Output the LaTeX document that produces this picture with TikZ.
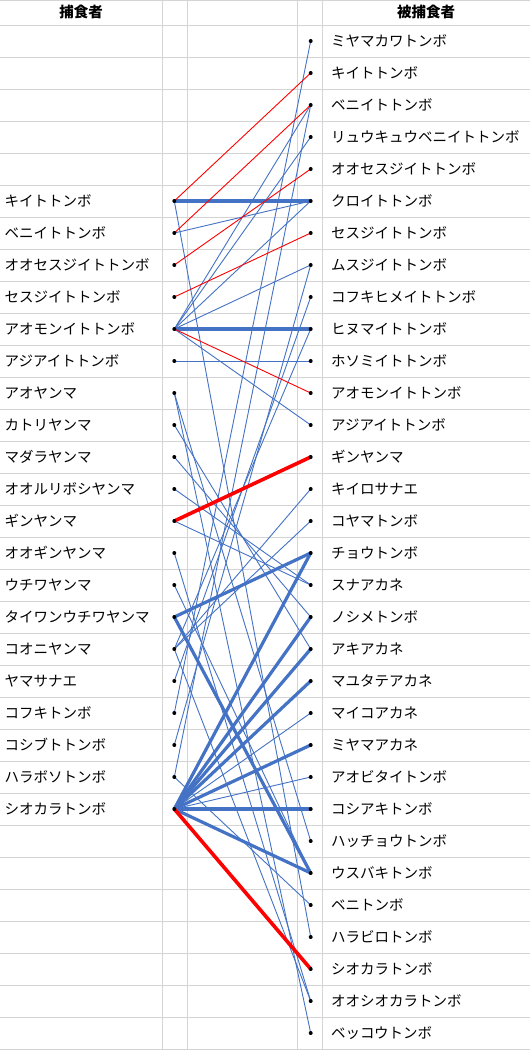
\documentclass[tikz,border=0pt]{standalone}
\usepackage{fontspec}
\newfontfamily\jp{Noto Sans CJK JP}
\begin{document}
\begin{tikzpicture}[x=1pt,y=-1pt,
  grid/.style={draw=black!17,line width=0.8pt},
  lbl/.style={anchor=west,inner sep=0pt,font=\jp\fontsize{14.5}{16}\selectfont},
  hdr/.style={inner sep=0pt,font=\jp\bfseries\fontsize{14.5}{16}\selectfont},
  dot/.style={circle,fill=black,inner sep=0pt,minimum size=4pt},
  bl/.style={draw={rgb,255:red,68;green,114;blue,196},line width=0.9pt},
  blt/.style={draw={rgb,255:red,68;green,114;blue,196},line width=3.2pt},
  rd/.style={draw=red,line width=0.9pt},
  rdt/.style={draw=red,line width=3.6pt}]
\useasboundingbox (0,0) rectangle (530,1050);
\fill[white] (0,0) rectangle (530,1050);
% grid
\foreach \k in {0,...,32} { \draw[grid] (0,25+32*\k) -- (530,25+32*\k); }
\draw[grid] (0,0.5) -- (530,0.5);
\foreach \xx in {162,187,297,322} { \draw[grid] (\xx,0) -- (\xx,1050); }
% headers
\node[hdr] (h1) at (81,12) {捕食者};
\node[hdr] (h2) at (426,12) {被捕食者};
% coordinates
\foreach \k in {6,...,25} { \coordinate (L\k) at (174.3,9+32*\k); }
\foreach \k in {1,...,32} { \coordinate (R\k) at (310.7,9+32*\k); }
% left labels
\foreach \k/\t in {6/キイトトンボ,7/ベニイトトンボ,8/オオセスジイトトンボ,9/セスジイトトンボ,10/アオモンイトトンボ,11/アジアイトトンボ,12/アオヤンマ,13/カトリヤンマ,14/マダラヤンマ,15/オオルリボシヤンマ,16/ギンヤンマ,17/オオギンヤンマ,18/ウチワヤンマ,19/タイワンウチワヤンマ,20/コオニヤンマ,21/ヤマサナエ,22/コフキトンボ,23/コシブトトンボ,24/ハラボソトンボ,25/シオカラトンボ}
  { \node[lbl] (tL\k) at (4.5,9+32*\k) {\t}; }
\foreach \k/\t in {1/ミヤマカワトンボ,2/キイトトンボ,3/ベニイトトンボ,4/リュウキュウベニイトトンボ,5/オオセスジイトトンボ,6/クロイトトンボ,7/セスジイトトンボ,8/ムスジイトトンボ,9/コフキヒメイトトンボ,10/ヒヌマイトトンボ,11/ホソミイトトンボ,12/アオモンイトトンボ,13/アジアイトトンボ,14/ギンヤンマ,15/キイロサナエ,16/コヤマトンボ,17/チョウトンボ,18/スナアカネ,19/ノシメトンボ,20/アキアカネ,21/マユタテアカネ,22/マイコアカネ,23/ミヤマアカネ,24/アオビタイトンボ,25/コシアキトンボ,26/ハッチョウトンボ,27/ウスバキトンボ,28/ベニトンボ,29/ハラビロトンボ,30/シオカラトンボ,31/オオシオカラトンボ,32/ベッコウトンボ}
  { \node[lbl] (tR\k) at (331,9+32*\k) {\t}; }
% thin blue links
\foreach \a/\b in {6/29,7/6,10/3,10/4,10/6,10/8,10/13,11/11,12/26,12/32,13/20,14/19,15/18,16/18,17/31,18/27,20/15,20/16,20/10,20/31,21/9,22/1,23/8,24/28,24/3,25/22,25/24}
  { \draw[bl] (L\a) -- (R\b); }
% thick blue links
\foreach \a/\b in {6/6,10/10,19/17,19/27,25/17,25/19,25/20,25/21,25/23,25/25,25/27}
  { \draw[blt] (L\a) -- (R\b); }
% red links
\foreach \a/\b in {6/2,7/3,8/5,9/7,10/12}
  { \draw[rd] (L\a) -- (R\b); }
\draw[rdt] (L16) -- (R14);
\draw[rdt] (L25) -- (R30);
% dots
\foreach \k in {6,...,25} { \node[dot] (dL\k) at (L\k) {}; }
\foreach \k in {1,...,32} { \node[dot] (dR\k) at (R\k) {}; }
\end{tikzpicture}
\end{document}
